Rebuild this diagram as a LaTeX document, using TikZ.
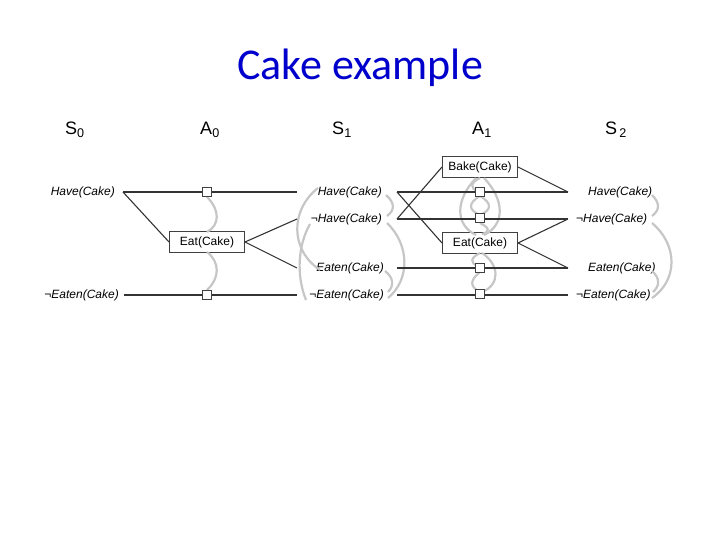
\documentclass[tikz,border=0pt]{standalone}
\usepackage{fontspec}
\setmainfont{Liberation Sans}
\newfontfamily\titlefont{Carlito}
\begin{document}
\begin{tikzpicture}[x=1pt,y=-1pt,
  lab/.style={font=\fontsize{12}{13}\selectfont\itshape, inner sep=1pt},
  hd/.style={font=\fontsize{18}{19}\selectfont},
  act/.style={draw=black!75, line width=1pt, font=\fontsize{12}{13}\selectfont, minimum width=75pt, minimum height=21pt, inner sep=1pt},
  sq/.style={draw=black!75, line width=0.9pt, minimum size=8.5pt, inner sep=0pt, fill=white},
  ln/.style={black!80, line width=1.1pt},
  mx/.style={gray!45, line width=2.2pt}]
\useasboundingbox (0,0) rectangle (720,540);
\node[font=\titlefont\fontsize{44}{48}\selectfont, text=blue!80!black] (title) at (360,68) {Cake example};
\node[hd] (s0) at (75,130) {S\textsubscript{0}};
\node[hd] (a0) at (210,130) {A\textsubscript{0}};
\node[hd] (s1) at (342,130) {S\textsubscript{1}};
\node[hd] (a1) at (482,130) {A\textsubscript{1}};
\node[hd] (s2) at (616,130) {S\textsubscript{\,2}};
% S0
\node[lab, anchor=east] (h0) at (116,192) {Have(Cake)};
\node[lab, anchor=east] (ne0) at (120,295) {¬Eaten(Cake)};
% S1
\node[lab, anchor=east] (h1) at (383,192) {Have(Cake)};
\node[lab, anchor=east] (nh1) at (383,219) {¬Have(Cake)};
\node[lab, anchor=east] (e1) at (385,268) {Eaten(Cake)};
\node[lab, anchor=east] (ne1) at (385,295) {¬Eaten(Cake)};
% S2
\node[lab, anchor=west] (h2) at (587,192) {Have(Cake)};
\node[lab, anchor=west] (nh2) at (575,219) {¬Have(Cake)};
\node[lab, anchor=west] (e2) at (587,268) {Eaten(Cake)};
\node[lab, anchor=west] (ne2) at (575,295) {¬Eaten(Cake)};
% actions
\node[act] (eat0) at (207,242) {Eat(Cake)};
\node[act] (bake1) at (480,167) {Bake(Cake)};
\node[act] (eat1) at (480,243) {Eat(Cake)};
% line ends
\coordinate (l0h) at (123,192); \coordinate (l0n) at (124,295);
\coordinate (r0h) at (297,192); \coordinate (r0nh) at (297,219);
\coordinate (r0e) at (297,268); \coordinate (r0n) at (297,295);
\coordinate (l1h) at (397,192); \coordinate (l1nh) at (397,219);
\coordinate (l1e) at (397,268); \coordinate (l1n) at (397,295);
\coordinate (r1h) at (568,192); \coordinate (r1nh) at (568,219);
\coordinate (r1e) at (568,268); \coordinate (r1n) at (568,295);
% mutex arcs
\draw[mx] (207,197) .. controls (220,210) and (220,225) .. (207,232);
\draw[mx] (207,252) .. controls (220,262) and (220,278) .. (207,290);
\draw[mx] (318,188) .. controls (290,210) and (290,250) .. (320,270);
\draw[mx] (310,224) .. controls (298,245) and (296,275) .. (306,300);
\draw[mx] (386,195) .. controls (395,203) and (395,210) .. (387,216);
\draw[mx] (387,223) .. controls (410,245) and (410,280) .. (388,298);
\draw[mx] (385,271) .. controls (394,278) and (394,286) .. (388,292);
\draw[mx] (480,178) .. controls (470,183) and (470,188) .. (478,192);
\draw[mx] (480,196) .. controls (468,203) and (468,210) .. (480,215);
\draw[mx] (480,196) .. controls (492,203) and (492,210) .. (480,215);
\draw[mx] (476,178) .. controls (455,200) and (455,225) .. (476,235);
\draw[mx] (484,178) .. controls (505,200) and (505,225) .. (484,235);
\draw[mx] (480,223) .. controls (490,228) and (490,232) .. (482,234);
\draw[mx] (480,253) .. controls (470,258) and (470,263) .. (478,266);
\draw[mx] (482,253) .. controls (500,265) and (500,285) .. (482,292);
\draw[mx] (480,272) .. controls (470,280) and (470,286) .. (478,291);
\draw[mx] (652,195) .. controls (660,203) and (660,210) .. (652,216);
\draw[mx] (652,223) .. controls (678,245) and (678,280) .. (652,298);
\draw[mx] (652,271) .. controls (660,278) and (660,286) .. (653,292);
% layer 0 lines
\draw[ln] (l0h) -- (r0h);
\draw[ln] (l0n) -- (r0n);
\draw[ln] (l0h) -- (eat0.west);
\draw[ln] (eat0.east) -- (r0nh);
\draw[ln] (eat0.east) -- (r0e);
% layer 1 lines
\draw[ln] (l1h) -- (r1h);
\draw[ln] (l1nh) -- (r1nh);
\draw[ln] (l1e) -- (r1e);
\draw[ln] (l1n) -- (r1n);
\draw[ln] (l1h) -- (eat1.west);
\draw[ln] (l1nh) -- (bake1.west);
\draw[ln] (bake1.east) -- (r1h);
\draw[ln] (eat1.east) -- (r1nh);
\draw[ln] (eat1.east) -- (r1e);
% squares
\node[sq] (p0h) at (207,192) {};
\node[sq] (p0n) at (207,295) {};
\node[sq] (p1h) at (480,192) {};
\node[sq] (p1nh) at (480,218) {};
\node[sq] (p1e) at (480,268) {};
\node[sq] (p1n) at (480,294) {};
\end{tikzpicture}
\end{document}
